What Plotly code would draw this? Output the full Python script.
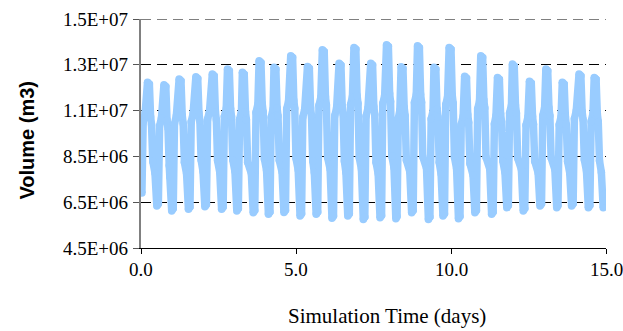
import plotly.graph_objects as go

# Simulated tidal volume (million m3) against simulation time (days)
sim_days = [
    0.00, 0.03, 0.07, 0.13,
    0.21, 0.27, 0.31, 0.34, 0.38, 0.45, 0.51, 0.56, 0.60, 0.66,
    0.74, 0.80, 0.84, 0.87, 0.91, 0.93, 0.99, 1.04, 1.08, 1.14,
    1.23, 1.29, 1.33, 1.36, 1.40, 1.47, 1.53, 1.58, 1.62, 1.68,
    1.77, 1.83, 1.87, 1.90, 1.94, 2.00, 2.06, 2.11, 2.15, 2.21,
    2.30, 2.36, 2.40, 2.43, 2.47, 2.54, 2.60, 2.65, 2.69, 2.75,
    2.79, 2.85, 2.89, 2.92, 2.96, 3.03, 3.09, 3.14, 3.18, 3.24,
    3.27, 3.33, 3.37, 3.40, 3.44, 3.56, 3.62, 3.67, 3.71, 3.77,
    3.81, 3.87, 3.91, 3.94, 3.98, 4.05, 4.11, 4.16, 4.20, 4.26,
    4.29, 4.35, 4.39, 4.42, 4.46, 4.55, 4.61, 4.66, 4.70, 4.76,
    4.83, 4.89, 4.93, 4.96, 5.00, 5.07, 5.13, 5.18, 5.22, 5.28,
    5.37, 5.43, 5.47, 5.50, 5.54, 5.59, 5.65, 5.70, 5.74, 5.80,
    5.85, 5.91, 5.95, 5.98, 6.02, 6.10, 6.16, 6.21, 6.25, 6.31,
    6.39, 6.45, 6.49, 6.52, 6.56, 6.61, 6.67, 6.72, 6.76, 6.82,
    6.87, 6.93, 6.97, 7.00, 7.04, 7.11, 7.17, 7.22, 7.26, 7.32,
    7.41, 7.47, 7.51, 7.54, 7.58, 7.65, 7.71, 7.76, 7.80, 7.86,
    7.92, 7.98, 8.02, 8.05, 8.09, 8.16, 8.22, 8.26, 8.30, 8.35,
    8.39, 8.45, 8.49, 8.52, 8.56, 8.67, 8.73, 8.78, 8.82, 8.88,
    8.92, 8.98, 9.02, 9.05, 9.09, 9.21, 9.27, 9.32, 9.36, 9.42,
    9.45, 9.51, 9.55, 9.58, 9.62, 9.68, 9.74, 9.79, 9.83, 9.89,
    9.94, 10.00, 10.04, 10.07, 10.11, 10.18, 10.24, 10.29, 10.33, 10.39,
    10.44, 10.50, 10.54, 10.57, 10.61, 10.71, 10.77, 10.82, 10.86, 10.92,
    10.96, 11.02, 11.06, 11.09, 11.13, 11.25, 11.31, 11.36, 11.40, 11.45,
    11.50, 11.56, 11.60, 11.63, 11.67, 11.74, 11.80, 11.85, 11.89, 11.95,
    11.98, 12.04, 12.08, 12.11, 12.15, 12.27, 12.33, 12.38, 12.42, 12.48,
    12.53, 12.59, 12.63, 12.66, 12.70, 12.81, 12.87, 12.92, 12.96, 13.02,
    13.06, 13.12, 13.16, 13.19, 13.23, 13.35, 13.41, 13.45, 13.49, 13.55,
    13.59, 13.65, 13.69, 13.72, 13.76, 13.83, 13.89, 13.94, 13.98, 14.04,
    14.13, 14.19, 14.23, 14.26, 14.30, 14.37, 14.43, 14.48, 14.52, 14.58,
    14.62, 14.68, 14.72, 14.75, 14.79, 14.85, 14.91, 14.95, 15.00,
]

volume_million_m3 = [
    7.05, 6.90, 10.00, 10.35,
    11.74, 11.66, 10.23, 9.88, 8.28, 7.78, 6.33, 6.43, 9.83, 10.18,
    11.63, 11.55, 10.09, 9.74, 8.10, 7.60, 6.12, 6.22, 9.92, 10.27,
    11.88, 11.80, 10.29, 9.94, 8.24, 7.74, 6.19, 6.29, 10.01, 10.36,
    11.98, 11.90, 10.39, 10.04, 8.34, 7.84, 6.30, 6.40, 10.13, 10.48,
    12.10, 12.02, 10.45, 10.10, 8.32, 7.82, 6.19, 6.29, 10.24, 10.59,
    12.32, 12.24, 10.58, 10.23, 8.35, 7.85, 6.12, 6.22, 10.11, 10.46,
    12.17, 12.09, 10.45, 10.10, 8.25, 7.75, 6.04, 6.14, 10.42, 10.77,
    12.68, 12.60, 10.80, 10.45, 8.39, 7.89, 5.97, 6.07, 10.21, 10.56,
    12.39, 12.31, 10.61, 10.26, 8.33, 7.83, 6.05, 6.15, 10.57, 10.92,
    12.90, 12.82, 10.94, 10.59, 8.42, 7.92, 5.90, 6.00, 10.21, 10.56,
    12.43, 12.35, 10.62, 10.27, 8.30, 7.80, 5.97, 6.07, 10.72, 11.07,
    13.16, 13.08, 11.10, 10.75, 8.45, 7.95, 5.80, 5.90, 10.27, 10.62,
    12.57, 12.49, 10.70, 10.35, 8.30, 7.80, 5.90, 6.00, 10.76, 11.11,
    13.26, 13.18, 11.16, 10.81, 8.45, 7.95, 5.75, 5.85, 10.25, 10.60,
    12.57, 12.49, 10.68, 10.33, 8.25, 7.75, 5.82, 5.92, 10.81, 11.16,
    13.38, 13.30, 11.25, 10.90, 8.52, 8.02, 5.78, 5.88, 10.16, 10.51,
    12.42, 12.34, 10.63, 10.28, 8.34, 7.84, 6.04, 6.14, 10.85, 11.20,
    13.33, 13.25, 11.21, 10.86, 8.48, 7.98, 5.75, 5.85, 10.13, 10.48,
    12.39, 12.31, 10.57, 10.22, 8.24, 7.74, 5.90, 6.00, 10.76, 11.11,
    13.26, 13.18, 11.17, 10.82, 8.47, 7.97, 5.78, 5.88, 9.89, 10.24,
    12.00, 11.92, 10.33, 9.98, 8.19, 7.69, 6.04, 6.14, 10.57, 10.92,
    12.90, 12.82, 10.96, 10.61, 8.46, 7.96, 5.97, 6.07, 9.92, 10.27,
    11.95, 11.87, 10.36, 10.01, 8.31, 7.81, 6.26, 6.36, 10.40, 10.75,
    12.53, 12.45, 10.74, 10.39, 8.43, 7.93, 6.12, 6.22, 9.86, 10.21,
    11.78, 11.70, 10.25, 9.90, 8.29, 7.79, 6.33, 6.43, 10.28, 10.63,
    12.32, 12.24, 10.62, 10.27, 8.44, 7.94, 6.26, 6.36, 9.88, 10.23,
    11.74, 11.66, 10.23, 9.88, 8.28, 7.78, 6.33, 6.43, 10.14, 10.49,
    12.10, 12.02, 10.46, 10.11, 8.36, 7.86, 6.26, 6.36, 10.02, 10.37,
    11.95, 11.87, 10.36, 10.01, 8.31, 7.81, 6.26, 6.85, 6.85,
]

volume_m3 = [v * 1e6 for v in volume_million_m3]

# Axis ticks
x_tick_vals = [0, 5, 10, 15]
x_tick_text = ["0.0", "5.0", "10.0", "15.0"]
y_tick_vals = [4.5e6, 6.5e6, 8.5e6, 10.5e6, 12.5e6, 14.5e6]
y_tick_text = ["4.5E+06", "6.5E+06", "8.5E+06", "1.1E+07", "1.3E+07", "1.5E+07"]

serif = "Liberation Serif"
tick_font = dict(family=serif, size=19, color="black")
line_blue = "#99CCFF"
line_w = 7.5

fig = go.Figure()
# thick line; same-size round markers at each vertex give rounded joins
fig.add_trace(go.Scatter(
    x=sim_days,
    y=volume_m3,
    mode="lines+markers",
    line=dict(color=line_blue, width=line_w),
    marker=dict(color=line_blue, size=line_w, line=dict(width=0)),
    showlegend=False,
    hoverinfo="skip",
))

# dashed gridline along the top of the value axis range
fig.add_shape(
    type="line", xref="paper", yref="y",
    x0=0, x1=1, y0=y_tick_vals[-1], y1=y_tick_vals[-1],
    line=dict(color="black", width=1, dash="10px,6px"),
    layer="below",
)

# tick labels set as serif text beside the axes
labels = []
for v, t in zip(y_tick_vals, y_tick_text):
    labels.append(dict(
        text=t, xref="paper", yref="y", x=0, y=v,
        xanchor="right", yanchor="middle", xshift=-11,
        showarrow=False, font=tick_font,
    ))
for v, t in zip(x_tick_vals, x_tick_text):
    labels.append(dict(
        text=t, xref="x", yref="paper", x=v, y=0,
        xanchor="center", yanchor="top", yshift=-9,
        showarrow=False, font=tick_font,
    ))

labels.append(dict(
    text="Simulation Time (days)",
    xref="paper", yref="paper",
    x=0.529, y=-0.299,
    xanchor="center", yanchor="middle",
    showarrow=False,
    font=dict(family=serif, size=21, color="black"),
))
labels.append(dict(
    text="<b>Volume (m3)</b>",
    xref="paper", yref="paper",
    x=-0.246, y=0.472,
    xanchor="center", yanchor="middle",
    textangle=-90,
    showarrow=False,
    font=dict(family="Liberation Sans", size=20, color="black"),
))

fig.update_layout(
    template="none",
    width=623,
    height=331,
    margin=dict(l=141, r=17, t=19, b=83),
    paper_bgcolor="white",
    plot_bgcolor="white",
    font=dict(family=serif, size=19, color="black"),
    xaxis=dict(
        range=[0, 15],
        tickvals=x_tick_vals,
        showticklabels=False,
        showgrid=False,
        zeroline=False,
        showline=True,
        linecolor="black",
        linewidth=1,
        ticks="outside",
        ticklen=5,
        tickcolor="black",
    ),
    yaxis=dict(
        range=[4.5e6, 14.5e6],
        tickvals=y_tick_vals,
        showticklabels=False,
        showgrid=True,
        gridcolor="black",
        gridwidth=1,
        griddash="10px,6px",
        zeroline=False,
        showline=True,
        linecolor="#808080",
        linewidth=2,
        ticks="outside",
        ticklen=6,
        tickcolor="#555555",
    ),
    annotations=labels,
)

fig.write_html("out.html")
